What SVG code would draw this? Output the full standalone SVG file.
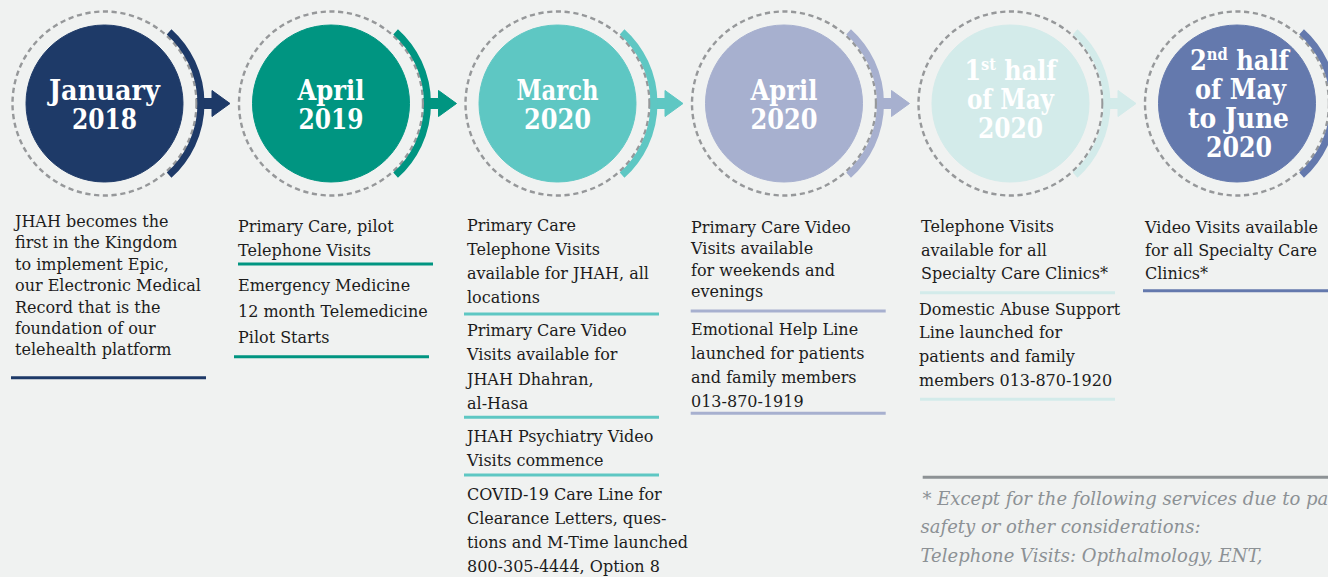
<svg xmlns="http://www.w3.org/2000/svg" xmlns:xlink="http://www.w3.org/1999/xlink" width="1328" height="577" viewBox="0 0 1328 577">
  <style>
    .bg { fill: #f0f2f1; }
    .dash { fill: none; stroke: #96989a; stroke-width: 2.4; stroke-dasharray: 5.2 3.6; }
    .arc { fill: none; stroke: currentColor; stroke-width: 7; }
    .lbl { font-family: "DejaVu Serif Condensed", "DejaVu Serif", serif; font-weight: bold; font-size: 28px; fill: #ffffff; text-anchor: middle; }
    .sup { font-size: 17px; }
    .body { font-family: "DejaVu Serif", serif; font-size: 16px; fill: #1c1c1c; }
    .note { font-family: "DejaVu Serif", serif; font-style: italic; font-size: 18px; fill: #8c9195; }
    .rule { stroke-width: 3; }
    .c1 { color: #1e3a68; fill: #1e3a68; stroke: #1e3a68; }
    .c2 { color: #009581; fill: #009581; stroke: #009581; }
    .c3 { color: #5ec7c3; fill: #5ec7c3; stroke: #5ec7c3; }
    .c4 { color: #a7b0cf; fill: #a7b0cf; stroke: #a7b0cf; }
    .c5 { color: #d3ebea; fill: #d3ebea; stroke: #d3ebea; }
    .c6 { color: #6479ad; fill: #6479ad; stroke: #6479ad; }
  </style>
  <defs>
    <!-- dashed halo plus the coloured outer arc, centred on the origin -->
    <g id="ring">
      <circle class="dash" r="92"/>
      <path class="arc" d="M 64.6 -71.7 A 96.5 96.5 0 0 1 64.6 71.7"/>
    </g>
    <!-- short shaft and head leaving the arc towards the next milestone -->
    <path id="pointer" d="M 92 -5 H 107.5 V -13 L 125.5 0 L 107.5 13 V 5 H 92 Z"/>
  </defs>

  <rect class="bg" x="0" y="0" width="1328" height="577"/>

  <g id="connectors">
    <use xlink:href="#pointer" class="c1" transform="translate(104.5 103.5)" stroke="none"/>
    <use xlink:href="#pointer" class="c2" transform="translate(331 103.5)" stroke="none"/>
    <use xlink:href="#pointer" class="c3" transform="translate(557.5 103.5)" stroke="none"/>
    <use xlink:href="#pointer" class="c4" transform="translate(784 103.5)" stroke="none"/>
    <use xlink:href="#pointer" class="c5" transform="translate(1010.5 103.5)" stroke="none"/>
  </g>

  <!-- milestone 1 -->
  <g id="jan-2018">
    <use xlink:href="#ring" class="c1" transform="translate(104.5 103.5)"/>
    <circle class="c1" cx="104.5" cy="103.5" r="78.5" stroke="none"/>
    <text class="lbl"><tspan x="104.5" y="100" textLength="111" lengthAdjust="spacingAndGlyphs">January</tspan><tspan x="104.5" y="128.5" textLength="65" lengthAdjust="spacingAndGlyphs">2018</tspan></text>
    <text class="body">
      <tspan x="15" y="226.7">JHAH becomes the</tspan>
      <tspan x="15" y="248.2">first in the Kingdom</tspan>
      <tspan x="15" y="269.6">to implement Epic,</tspan>
      <tspan x="15" y="291">our Electronic Medical</tspan>
      <tspan x="15" y="312.5">Record that is the</tspan>
      <tspan x="15" y="333.9">foundation of our</tspan>
      <tspan x="15" y="355.3">telehealth platform</tspan>
    </text>
    <line class="c1 rule" x1="11" y1="377.7" x2="206" y2="377.7"/>
  </g>

  <!-- milestone 2 -->
  <g id="apr-2019">
    <use xlink:href="#ring" class="c2" transform="translate(331 103.5)"/>
    <circle class="c2" cx="331" cy="103.5" r="78.5" stroke="none"/>
    <text class="lbl"><tspan x="331" y="100" textLength="67" lengthAdjust="spacingAndGlyphs">April</tspan><tspan x="331" y="128.5" textLength="65" lengthAdjust="spacingAndGlyphs">2019</tspan></text>
    <text class="body">
      <tspan x="238" y="231.5">Primary Care, pilot</tspan>
      <tspan x="238" y="255.5">Telephone Visits</tspan>
    </text>
    <line class="c2 rule" x1="238" y1="264" x2="433" y2="264"/>
    <text class="body">
      <tspan x="238" y="290.5">Emergency Medicine</tspan>
      <tspan x="238" y="316.5">12 month Telemedicine</tspan>
      <tspan x="238" y="342.5">Pilot Starts</tspan>
    </text>
    <line class="c2 rule" x1="234" y1="356.7" x2="429" y2="356.7"/>
  </g>

  <!-- milestone 3 -->
  <g id="mar-2020">
    <use xlink:href="#ring" class="c3" transform="translate(557.5 103.5)"/>
    <circle class="c3" cx="557.5" cy="103.5" r="78.5" stroke="none"/>
    <text class="lbl"><tspan x="557.5" y="100" textLength="82" lengthAdjust="spacingAndGlyphs">March</tspan><tspan x="557.5" y="128.5" textLength="67" lengthAdjust="spacingAndGlyphs">2020</tspan></text>
    <text class="body">
      <tspan x="467" y="230.5">Primary Care</tspan>
      <tspan x="467" y="254.5">Telephone Visits</tspan>
      <tspan x="467" y="278.5">available for JHAH, all</tspan>
      <tspan x="467" y="302.5">locations</tspan>
    </text>
    <line class="c3 rule" x1="464" y1="314" x2="659" y2="314"/>
    <text class="body">
      <tspan x="467" y="335.5">Primary Care Video</tspan>
      <tspan x="467" y="360">Visits available for</tspan>
      <tspan x="467" y="384.5">JHAH Dhahran,</tspan>
      <tspan x="467" y="408.5">al-Hasa</tspan>
    </text>
    <line class="c3 rule" x1="464" y1="417.3" x2="659" y2="417.3"/>
    <text class="body">
      <tspan x="467" y="441.5">JHAH Psychiatry Video</tspan>
      <tspan x="467" y="465.5">Visits commence</tspan>
    </text>
    <line class="c3 rule" x1="464" y1="475" x2="659" y2="475"/>
    <text class="body">
      <tspan x="467" y="499.5">COVID-19 Care Line for</tspan>
      <tspan x="467" y="523.5">Clearance Letters, ques-</tspan>
      <tspan x="467" y="547.5">tions and M-Time launched</tspan>
      <tspan x="467" y="571.5">800-305-4444, Option 8</tspan>
    </text>
  </g>

  <!-- milestone 4 -->
  <g id="apr-2020">
    <use xlink:href="#ring" class="c4" transform="translate(784 103.5)"/>
    <circle class="c4" cx="784" cy="103.5" r="78.5" stroke="none"/>
    <text class="lbl"><tspan x="784" y="100" textLength="67" lengthAdjust="spacingAndGlyphs">April</tspan><tspan x="784" y="128.5" textLength="67" lengthAdjust="spacingAndGlyphs">2020</tspan></text>
    <text class="body">
      <tspan x="691" y="232.5">Primary Care Video</tspan>
      <tspan x="691" y="254">Visits available</tspan>
      <tspan x="691" y="275.5">for weekends and</tspan>
      <tspan x="691" y="296.5">evenings</tspan>
    </text>
    <line class="c4 rule" x1="690.7" y1="311" x2="885.7" y2="311"/>
    <text class="body">
      <tspan x="691" y="334.5">Emotional Help Line</tspan>
      <tspan x="691" y="358.5">launched for patients</tspan>
      <tspan x="691" y="382.5">and family members</tspan>
      <tspan x="691" y="406.5">013-870-1919</tspan>
    </text>
    <line class="c4 rule" x1="690.7" y1="413.3" x2="885.7" y2="413.3"/>
  </g>

  <!-- milestone 5 -->
  <g id="may-2020-first">
    <use xlink:href="#ring" class="c5" transform="translate(1010.5 103.5)"/>
    <circle class="c5" cx="1010.5" cy="103.5" r="78.5" stroke="none"/>
    <text class="lbl"><tspan x="1010.5" y="80" textLength="92" lengthAdjust="spacingAndGlyphs">1<tspan class="sup" dy="-10">st</tspan><tspan dy="10"> half</tspan></tspan><tspan x="1010.5" y="109" textLength="87" lengthAdjust="spacingAndGlyphs">of May</tspan><tspan x="1010.5" y="138" textLength="65" lengthAdjust="spacingAndGlyphs">2020</tspan></text>
    <text class="body">
      <tspan x="921" y="231.5">Telephone Visits</tspan>
      <tspan x="921" y="255.5">available for all</tspan>
      <tspan x="921" y="278.5">Specialty Care Clinics*</tspan>
    </text>
    <line class="c5 rule" x1="920" y1="292.7" x2="1115" y2="292.7"/>
    <text class="body">
      <tspan x="919" y="314.5">Domestic Abuse Support</tspan>
      <tspan x="919" y="337.5">Line launched for</tspan>
      <tspan x="919" y="362">patients and family</tspan>
      <tspan x="919" y="386">members 013-870-1920</tspan>
    </text>
    <line class="c5 rule" x1="920" y1="399.3" x2="1115" y2="399.3"/>
  </g>

  <!-- milestone 6 -->
  <g id="may-june-2020">
    <use xlink:href="#ring" class="c6" transform="translate(1237 103.5)"/>
    <circle class="c6" cx="1237" cy="103.5" r="78.5" stroke="none"/>
    <text class="lbl"><tspan x="1239.5" y="70" textLength="99" lengthAdjust="spacingAndGlyphs">2<tspan class="sup" dy="-10">nd</tspan><tspan dy="10"> half</tspan></tspan><tspan x="1240.5" y="99" textLength="91" lengthAdjust="spacingAndGlyphs">of May</tspan><tspan x="1238.5" y="128" textLength="101" lengthAdjust="spacingAndGlyphs">to June</tspan><tspan x="1239" y="157" textLength="66" lengthAdjust="spacingAndGlyphs">2020</tspan></text>
    <text class="body">
      <tspan x="1145" y="232.5">Video Visits available</tspan>
      <tspan x="1145" y="255.5">for all Specialty Care</tspan>
      <tspan x="1145" y="278.5">Clinics*</tspan>
    </text>
    <line class="c6 rule" x1="1143" y1="290.7" x2="1328" y2="290.7"/>
  </g>

  <!-- footnote -->
  <g id="footnote">
    <line x1="922.7" y1="477.3" x2="1328" y2="477.3" stroke="#8d9295" stroke-width="3"/>
    <text class="note">
      <tspan x="922.5" y="505">* Except for the following services due to patient</tspan>
      <tspan x="920.5" y="533">safety or other considerations:</tspan>
      <tspan x="920.5" y="561.7">Telephone Visits: Opthalmology, ENT,</tspan>
    </text>
  </g>
</svg>
